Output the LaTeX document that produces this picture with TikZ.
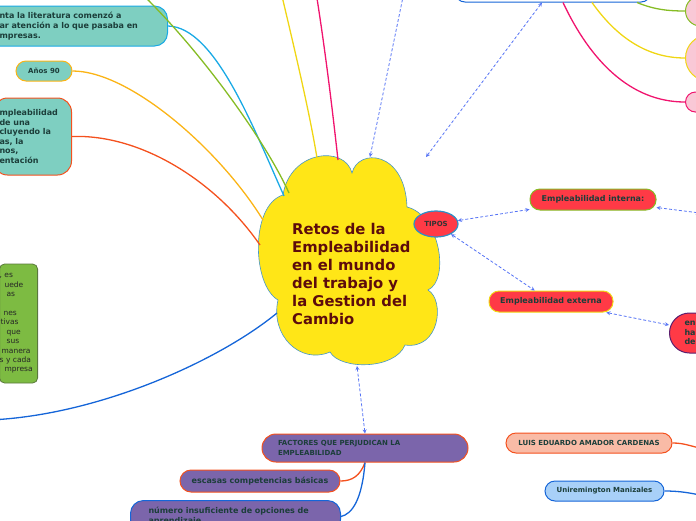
\documentclass[tikz,border=0pt]{standalone}
\usepackage{fontspec}
\setmainfont{DejaVu Sans}
\usetikzlibrary{shapes.geometric}
\definecolor{cloudyellow}{RGB}{255,230,23}
\definecolor{cloudline}{RGB}{70,150,200}
\definecolor{titlered}{RGB}{92,12,12}
\definecolor{inktext}{RGB}{28,62,58}
\definecolor{tealfill}{RGB}{126,207,193}
\definecolor{redfill}{RGB}{255,58,70}
\definecolor{purplefill}{RGB}{123,101,171}
\definecolor{salmonfill}{RGB}{249,187,166}
\definecolor{skyfill}{RGB}{168,208,248}
\definecolor{leaffill}{RGB}{125,187,66}
\definecolor{pinkfill}{RGB}{249,200,214}
\definecolor{cyanline}{RGB}{25,169,229}
\definecolor{oliveline}{RGB}{134,188,36}
\definecolor{yellowline}{RGB}{240,214,20}
\definecolor{magentaline}{RGB}{240,20,110}
\definecolor{amberline}{RGB}{251,180,22}
\definecolor{orangeline}{RGB}{244,81,30}
\definecolor{blueline}{RGB}{21,101,216}
\definecolor{dashblue}{RGB}{85,115,245}
\definecolor{tipsline}{RGB}{45,143,198}
\definecolor{plumline}{RGB}{90,30,110}
\definecolor{mossline}{RGB}{90,120,60}

\begin{document}
\begin{tikzpicture}[x=1pt, y=-1pt,
  mapnode/.style={draw, line width=1pt, rounded corners=10pt, text=inktext,
    font=\fontsize{8}{10}\selectfont\bfseries, inner sep=0pt},
  smallcaps/.style={font=\fontsize{7}{9.5}\selectfont\bfseries},
  branch/.style={line width=1.3pt},
  dasharrow/.style={dashblue, line width=0.8pt, dash pattern=on 3pt off 2pt, <->, >=stealth}
]
  \useasboundingbox (0,0) rectangle (696,520);
  \clip (0,0) rectangle (696,520);

  % Central cloud
  \filldraw[fill=cloudyellow, draw=cloudline, line width=0.6pt]
    (283,195) .. controls (290,150) and (345,145) .. (352,173)
    .. controls (358,148) and (405,150) .. (407,207)
    .. controls (440,215) and (450,280) .. (428,290)
    .. controls (445,300) and (440,350) .. (405,345)
    .. controls (395,370) and (340,370) .. (330,352)
    .. controls (300,365) and (270,335) .. (278,300)
    .. controls (252,285) and (250,205) .. cycle;
  \node[anchor=west, align=left, inner sep=0pt, text=titlered,
    font=\fontsize{14.8}{18}\selectfont\bfseries] (title) at (292,274)
    {Retos de la\\Empleabilidad\\en el mundo\\del trabajo y\\la Gestion del\\Cambio};

  % Points on the cloud outline
  \coordinate (c-cyan) at (284,196);
  \coordinate (c-green) at (289,193);
  \coordinate (c-yel) at (317,158);
  \coordinate (c-mag) at (338,160);
  \coordinate (c-anos) at (263,220);
  \coordinate (c-red) at (260,245);
  \coordinate (c-blue) at (277,313);
  \coordinate (c-dash1) at (370,157);
  \coordinate (c-dash2) at (426,157);
  \coordinate (c-bot) at (357,366);

  % Ends outside the frame
  \coordinate (off-green) at (140,-8);
  \coordinate (off-yellow) at (281,-8);
  \coordinate (off-magenta) at (316,-8);
  \coordinate (off-blue) at (-10,420);
  \coordinate (off-dash) at (404,-8);
  \coordinate (off-int) at (700,213);
  \coordinate (off-luis) at (700,448);
  \coordinate (off-uni) at (700,495);

  % Left branches
  \node[mapnode, draw=cyanline, fill=tealfill, rounded corners=13pt, anchor=east,
    minimum height=40pt, text width=148pt, align=left, inner xsep=20pt] (lit) at (168,26)
    {nta la literatura comenzó a\\ar atención a lo que pasaba en\\mpresas.};
  \node[mapnode, draw=amberline, fill=tealfill, smallcaps, minimum width=56pt,
    minimum height=20pt] (anos) at (44,71) {Años 90};
  \node[mapnode, draw=orangeline, fill=tealfill, rounded corners=14pt, anchor=east,
    minimum height=77pt, text width=66pt, align=left, inner xsep=6pt,
    font=\fontsize{8}{9.6}\selectfont\bfseries] (def) at (72,136.5)
    {mpleabilidad\\de una\\cluyendo la\\as, la\\nos,\\entación};
  \node[mapnode, draw=mossline, fill=leaffill, line width=0.8pt, rounded corners=5pt,
    anchor=east, minimum height=119pt, text width=38pt, align=left, inner xsep=0pt,
    text=black!85, font=\fontsize{7.5}{9.4}\selectfont] (leaf) at (38,323.5)
    {, es\\\hspace*{5pt}uede\\\hspace*{7pt}as\\\mbox{}\\\hspace*{4pt}nes\\\hspace*{1pt}tivas\\
     \hspace*{7pt}que\\\hspace*{7pt}sus\\\hspace*{2pt}manera\\s y cada\\\hspace*{5pt}mpresa};

  % Types
  \node[ellipse, draw=tipsline, fill=redfill, line width=1.2pt, minimum width=44pt,
    minimum height=26pt, inner sep=0pt, text=black!80, smallcaps] (tipos) at (436,224) {TIPOS};
  \node[mapnode, draw=oliveline, fill=redfill, minimum width=126pt, minimum height=21pt]
    (interna) at (593,199.5) {Empleabilidad interna:};
  \node[mapnode, draw=yellowline, fill=redfill, minimum width=124pt, minimum height=21pt]
    (externa) at (551,301.5) {Empleabilidad externa};
  \node[mapnode, draw=plumline, fill=redfill, rounded corners=20pt, anchor=west,
    minimum height=40pt, text width=50pt, align=left, inner xsep=15pt,
    font=\fontsize{8}{9.5}\selectfont\bfseries] (enha) at (669,333) {en\\ha\\de};

  % Top right
  \node[mapnode, draw=blueline, fill=white, minimum width=196pt, minimum height=28pt]
    (top) at (553,-12) {};
  \node[mapnode, draw=oliveline, fill=pinkfill, rounded corners=15pt, anchor=west,
    minimum width=60pt, minimum height=30pt] (pinka) at (685,11) {};
  \node[mapnode, draw=yellowline, fill=pinkfill, rounded corners=23pt, anchor=west,
    minimum width=60pt, minimum height=46pt] (pinkb) at (685,58) {};
  \node[mapnode, draw=magentaline, fill=pinkfill, rounded corners=10pt, anchor=west,
    minimum width=60pt, minimum height=20pt] (pinkc) at (685,102) {};

  % Bottom
  \node[mapnode, draw=orangeline, fill=purplefill, rounded corners=14pt, smallcaps,
    minimum height=28pt, text width=174pt, align=left, inner xsep=16pt] (factores)
    at (365,448) {FACTORES QUE PERJUDICAN LA\\EMPLEABILIDAD};
  \node[mapnode, draw=orangeline, fill=purplefill, rounded corners=11pt,
    minimum width=160pt, minimum height=22pt] (escasas) at (260,481)
    {escasas competencias básicas};
  \node[mapnode, draw=blueline, fill=purplefill, rounded corners=13pt, anchor=north west,
    minimum height=32pt, text width=174pt, align=left, inner xsep=18pt] (numero)
    at (130,500) {número insuficiente de opciones de\\aprendizaje};
  \node[mapnode, draw=orangeline, fill=salmonfill, smallcaps, minimum width=166pt,
    minimum height=20pt] (luis) at (589,443) {LUIS EDUARDO AMADOR CARDENAS};
  \node[mapnode, draw=blueline, fill=skyfill, smallcaps, minimum width=119pt,
    minimum height=20pt] (unirem) at (604.5,491) {Uniremington Manizales};

  % Solid branches
  \draw[branch, cyanline] (lit.east) .. controls (215,27) and (253,127) .. (c-cyan);
  \draw[branch, oliveline] (off-green) .. controls (200,50) and (265,140) .. (c-green);
  \draw[branch, yellowline] (off-yellow) .. controls (296,55) and (310,115) .. (c-yel);
  \draw[branch, magentaline] (off-magenta) .. controls (326,55) and (333,115) .. (c-mag);
  \draw[branch, amberline] (anos.east) .. controls (130,71) and (220,150) .. (c-anos);
  \draw[branch, orangeline] (def.east) .. controls (140,134) and (215,180) .. (c-red);
  \draw[branch, blueline] (c-blue) .. controls (220,360) and (100,415) .. (off-blue);
  \draw[branch, oliveline] ([xshift=84pt]top.south) .. controls (655,10) and (670,11) .. (pinka.west);
  \draw[branch, yellowline] ([xshift=39pt]top.south) .. controls (615,35) and (645,58) .. (pinkb.west);
  \draw[branch, magentaline] ([xshift=10pt]top.south) .. controls (590,60) and (630,102) .. (pinkc.west);
  \draw[branch, orangeline] (factores.south) .. controls (360,476) and (352,481) .. (escasas.east);
  \draw[branch, blueline] (factores.south) .. controls (362,500) and (352,514) .. (numero.east);
  \draw[branch, orangeline] (luis.east) .. controls (684,443) and (690,446) .. (off-luis);
  \draw[branch, blueline] (unirem.east) .. controls (680,491) and (690,493) .. (off-uni);

  % Dashed links
  \draw[dasharrow] (off-dash) -- (c-dash1);
  \draw[dasharrow] ([xshift=-11pt]top.south) -- (c-dash2);
  \draw[dasharrow] (c-bot) -- (factores.north);
  \draw[dasharrow] (tipos) -- (interna);
  \draw[dasharrow] (tipos) -- (externa);
  \draw[dasharrow] (externa) -- (enha);
  \draw[dasharrow] (interna) -- (off-int);
\end{tikzpicture}
\end{document}
